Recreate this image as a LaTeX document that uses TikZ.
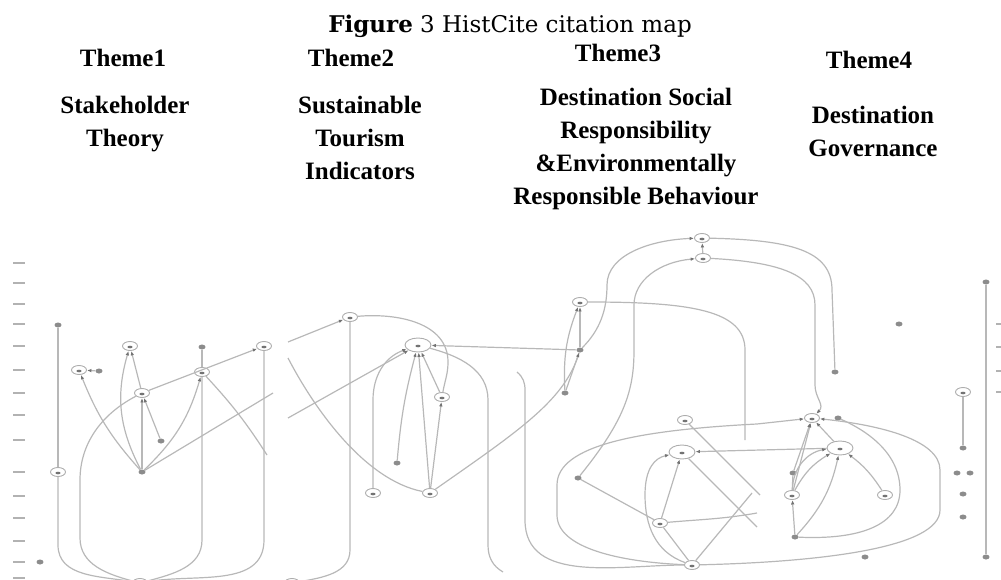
\documentclass[tikz,border=0pt]{standalone}
\usepackage{fontspec}
\setmainfont{Liberation Serif}
\newfontfamily\capfont{DejaVu Serif}
\usetikzlibrary{arrows.meta, shapes.geometric}

\tikzset{
    paper/.style={ellipse, draw=black!32, line width=.9pt, fill=white,
        minimum width=15pt, minimum height=9pt, inner sep=0pt,
        path picture={\fill[black!55] ([yshift=-1pt]path picture bounding box.center) ellipse (2.6pt and 1.3pt);}},
    bigpaper/.style={paper, minimum width=26pt, minimum height=14pt},
    leaf/.style={ellipse, fill=black!45, minimum width=7pt, minimum height=5pt, inner sep=0pt},
    cite/.style={draw=black!28, line width=1.2pt},
    citeto/.style={cite, -{Latex[length=4.5pt, width=3.5pt, color=black!55]}},
    theme/.style={font=\fontsize{25}{33}\selectfont\bfseries, align=center, inner sep=0pt, anchor=north},
    yeartick/.style={draw=black!30, line width=1.4pt},
}

\begin{document}
\begin{tikzpicture}[x=1pt, y=1pt]
    \useasboundingbox (0,0) rectangle (1001,-580);

    \node[anchor=base, inner sep=0pt] (title) at (510,-33)
        {\capfont\fontsize{23}{27}\selectfont\textbf{Figure} 3 HistCite citation map};
    \node[theme] (t1) at (123,-49) {Theme1};
    \node[theme] (t2) at (351,-49) {Theme2};
    \node[theme] (t3) at (618,-44) {Theme3};
    \node[theme] (t4) at (869,-51) {Theme4};
    \node[theme] (n1) at (125,-96) {Stakeholder\\Theory};
    \node[theme] (n2) at (360,-96) {Sustainable\\Tourism\\Indicators};
    \node[theme] (n3) at (636,-88) {Destination Social\\Responsibility\\\&Environmentally\\Responsible Behaviour};
    \node[theme] (n4) at (873,-106) {Destination\\Governance};

    \foreach \y in {263,283,304,324,346,370,393,415,440,472,496,518,541,562,578}
        \draw[yeartick] (13,-\y) -- (25,-\y);
    \foreach \y in {324,347,371,392}
        \draw[yeartick] (996,-\y) -- (1001,-\y);

    % theme 1
    \node[leaf] (a1) at (58,-325) {};
    \node[paper] (a2) at (58,-472) {};
    \node[paper] (a3) at (130,-346) {};
    \node[paper] (a4) at (79,-370) {};
    \node[leaf] (a5) at (99,-371) {};
    \node[paper] (a6) at (142,-393) {};
    \node[leaf] (a7) at (161,-441) {};
    \node[leaf] (a8) at (142,-472) {};
    \node[leaf] (a9) at (202,-347) {};
    \node[paper] (a10) at (202,-372) {};
    \node[paper] (a11) at (264,-346) {};
    \node[paper] (a12) at (140,-583) {};
    \node[leaf] (a13) at (40,-562) {};
    \coordinate (s1) at (273,-393);
    \coordinate (s2) at (267,-455);

    \draw[cite] (a1) -- (a2);
    \draw[cite] (a2) -- (58,-545) to[out=-90, in=170] (a12);
    \draw[citeto] (a5) -- (a4);
    \draw[citeto] (a8) to[bend left=10] (a4);
    \draw[citeto] (a8) to[bend left=22] (a3);
    \draw[citeto] (a6) -- (a3);
    \draw[citeto] (a8) -- (a6);
    \draw[citeto] (a7) -- (a6);
    \draw[citeto] (a8) to[bend right=15] (a10);
    \draw[cite] (a9) -- (a10);
    \draw[citeto] (a6) -- (a11);
    \draw[cite] (a8) -- (s1);
    \draw[cite] (a10) to[bend left=5] (s2);
    \draw[cite] (a10) -- (202,-540) to[out=-90, in=15] (a12);
    \draw[cite] (a11) -- (264,-540) to[out=-90, in=10] (a12);
    \draw[cite] (a6) .. controls (100,-415) and (80,-445) .. (80,-480)
        -- (80,-538) to[out=-90, in=165] (a12);

    % theme 2
    \node[paper] (b1) at (350,-317) {};
    \node[bigpaper] (b2) at (418,-345) {};
    \node[paper] (b3) at (442,-397) {};
    \node[leaf] (b4) at (397,-463) {};
    \node[paper] (b5) at (430,-493) {};
    \node[paper] (b6) at (373,-493) {};
    \node[paper] (b0) at (292,-583) {};
    \coordinate (s3) at (288,-342);
    \coordinate (s4) at (288,-418);
    \coordinate (s5) at (288,-358);
    \coordinate (s6) at (503,-572);

    \draw[citeto] (s3) -- (b1);
    \draw[cite] (b1) to[out=5, in=90] (448,-362) to[out=-90, in=80] (b3);
    \draw[citeto] (s4) -- (b2);
    \draw[citeto] (b6) -- (373,-400) to[out=90, in=200] (b2);
    \draw[citeto] (b4) to[bend left=5] (b2);
    \draw[citeto] (b5) -- (b2);
    \draw[citeto] (b3) -- (b2);
    \draw[citeto] (b5) -- (b3);
    \draw[cite] (b2) to[out=-15, in=90] (488,-400) -- (488,-545) to[out=-90, in=150] (s6);
    \draw[cite] (b1) -- (350,-550) to[out=-90, in=10] (b0);
    \draw[cite] (s5) .. controls (315,-410) and (365,-480) .. (b5);

    % theme 3
    \node[paper] (c1) at (702,-238) {};
    \node[paper] (c2) at (703,-258) {};
    \node[paper] (c3) at (580,-302) {};
    \node[leaf] (c4) at (580,-350) {};
    \node[leaf] (c5) at (565,-393) {};
    \node[paper] (c6) at (685,-420) {};
    \node[bigpaper] (c7) at (682,-452) {};
    \node[leaf] (c8) at (578,-478) {};
    \node[paper] (c9) at (660,-523) {};
    \node[paper] (c10) at (692,-565) {};
    \coordinate (s7) at (517,-372);
    \coordinate (s8) at (745,-440);

    \draw[citeto] (c4) -- (b2);
    \draw[cite] (b5) .. controls (520,-430) and (565,-400) .. (c4);
    \draw[citeto] (c4) .. controls (600,-330) and (607,-310) .. (607,-285)
        .. controls (607,-255) and (650,-240) .. (c1);
    \draw[citeto] (c2) -- (c1);
    \draw[citeto] (c8) .. controls (625,-420) and (634,-390) .. (634,-350)
        -- (634,-305) .. controls (634,-280) and (660,-262) .. (c2);
    \draw[citeto] (c4) -- (c3);
    \draw[citeto] (c5) to[bend left=12] (c3);
    \draw[citeto] (c5) -- (c4);
    \draw[cite] (c3) .. controls (690,-302) and (745,-310) .. (745,-350) -- (s8);
    \draw[cite] (s7) to[out=-40, in=90] (525,-390) -- (525,-520) to[out=-90, in=180] (c10);
    \draw[cite] (c8) -- (c9);
    \draw[citeto] (c9) -- (c7);
    \draw[cite] (c9) -- (c10);
    \draw[citeto] (c10) .. controls (655,-552) and (645,-525) .. (645,-495)
        .. controls (645,-468) and (655,-458) .. (c7);
    \draw[cite] (c6) -- (760,-495);
    \draw[cite] (c7) -- (757,-527);
    \draw[cite] (c10) -- (752,-493);
    \draw[cite] (c9) to[out=5, in=190] (757,-513);

    % theme 4
    \node[leaf] (d1) at (835,-372) {};
    \node[paper] (d2) at (812,-418) {};
    \node[bigpaper] (d3) at (840,-448) {};
    \node[leaf] (d4) at (793,-473) {};
    \node[paper] (d5) at (792,-495) {};
    \node[leaf] (d6) at (795,-537) {};
    \node[paper] (d7) at (885,-495) {};
    \node[leaf] (d8) at (838,-418) {};
    \node[leaf] (d9) at (899,-324) {};
    \node[paper] (d10) at (963,-392) {};
    \node[leaf] (d11) at (963,-448) {};
    \node[leaf] (d12) at (957,-473) {};
    \node[leaf] (d13) at (970,-473) {};
    \node[leaf] (d14) at (963,-494) {};
    \node[leaf] (d15) at (963,-517) {};
    \node[leaf] (d16) at (986,-282) {};
    \node[leaf] (d17) at (986,-557) {};
    \node[leaf] (d18) at (865,-557) {};

    \draw[cite] (c1) .. controls (790,-240) and (832,-250) .. (832,-290) -- (d1);
    \draw[citeto] (c2) .. controls (780,-262) and (815,-275) .. (815,-305)
        -- (815,-385) .. controls (815,-398) and (825,-405) .. (d2);
    \draw[citeto] (c10) .. controls (620,-562) and (557,-548) .. (557,-515)
        -- (557,-485) .. controls (557,-445) and (640,-430) .. (757,-424) -- (d2);
    \draw[citeto] (d3) -- (c7);
    \draw[citeto] (c10) .. controls (820,-562) and (940,-548) .. (940,-510)
        -- (940,-470) .. controls (940,-440) and (880,-425) .. (d2);
    \draw[cite] (d6) .. controls (860,-540) and (900,-525) .. (900,-490)
        .. controls (900,-455) and (870,-432) .. (d8);
    \draw[citeto] (d3) -- (d2);
    \draw[citeto] (d5) -- (d2);
    \draw[citeto] (d4) -- (d2);
    \draw[cite] (d5) -- (d4);
    \draw[citeto] (d6) -- (d5);
    \draw[citeto] (d5) to[bend left=15] (d3);
    \draw[citeto] (d5) to[bend left=40] (d3);
    \draw[citeto] (d6) to[bend right=15] (d3);
    \draw[citeto] (d7) to[bend right=10] (d3);
    \draw[cite] (d10) -- (d11);
    \draw[cite] (d16) -- (d17);
\end{tikzpicture}
\end{document}
